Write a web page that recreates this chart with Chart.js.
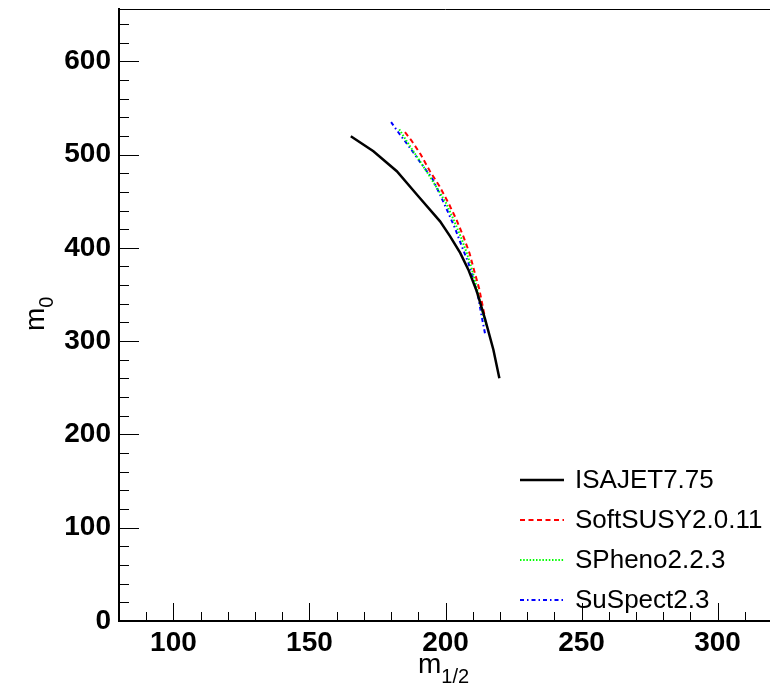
<!DOCTYPE html>
<html>
<head>
<meta charset="utf-8">
<script src="https://cdn.jsdelivr.net/npm/chart.js@4"></script>
<style>
  html, body { margin: 0; padding: 0; background: #fff; overflow: hidden; }
  #wrap { width: 780px; height: 688px; }
</style>
</head>
<body>
<div id="wrap"><canvas id="myChart" width="780" height="688"></canvas></div>
<script>
// Axis ticks (labelled) and axis ranges
const xTicks = [100, 150, 200, 250, 300];
const yTicks = [0, 100, 200, 300, 400, 500, 600];
const xRange = [80, 320];
const yRange = [0, 656];

// Legend names
const seriesNames = ['ISAJET7.75', 'SoftSUSY2.0.11', 'SPheno2.2.3', 'SuSpect2.3'];

// Curves (m1/2, m0)
const isajetX = [165.2, 173.5, 182.1, 190.0, 198.0, 201.7, 205.4, 208.4, 211.5, 214.6, 217.6, 219.8];
const isajetY = [519.6, 503.6, 482.1, 455.3, 428.4, 412.3, 394.5, 376.6, 353.3, 323.0, 290.8, 260.3];

const softsusyX = [185.1, 187.5, 190.9, 194.3, 197.8, 201.1, 203.9, 206.6, 208.8, 210.6, 212.4, 213.7, 214.5];
const softsusyY = [524, 515, 500, 482, 466, 448, 431, 412, 394.5, 375, 356, 337, 325];

const sphenoX = [183.0, 185.8, 189.0, 192.8, 196.7, 200.2, 203.0, 205.6, 208.0, 209.9, 211.6, 213.0, 214.3, 215.0];
const sphenoY = [527, 514, 500, 483, 465, 448, 430, 412, 393, 375, 356, 338, 324, 316];

const suspectX = [180.0, 183.1, 187.0, 190.9, 195.0, 198.0, 200.8, 203.5, 206.0, 208.4, 210.3, 212.1, 213.3, 214.6];
const suspectY = [534.7, 522, 507, 491, 475, 457, 439, 421, 401.6, 384, 366, 346, 326.5, 307];

const toPoints = (xs, ys) => xs.map((x, i) => ({ x: x, y: ys[i] }));

const FONT = '"Liberation Sans", Arial, Helvetica, sans-serif';

// Draws ROOT-style inward ticks, the top frame line, axis titles and the legend
const rootFrame = {
    id: 'rootFrame',
    afterDraw(chart) {
        const ctx = chart.ctx;
        const area = chart.chartArea;
        const xs = chart.scales.x;
        const ys = chart.scales.y;
        ctx.save();
        ctx.strokeStyle = '#000';
        ctx.lineWidth = 1;

        // x ticks: major every 50, minor every 10
        for (let v = xRange[0]; v <= xRange[1]; v += 10) {
            const px = Math.round(xs.getPixelForValue(v)) + 0.5;
            const len = (v % 50 === 0) ? 18 : 9;
            ctx.beginPath();
            ctx.moveTo(px, area.bottom);
            ctx.lineTo(px, area.bottom - len);
            ctx.stroke();
        }
        // y ticks: major every 100, minor every 20
        for (let v = yRange[0]; v <= yRange[1]; v += 20) {
            const py = Math.round(ys.getPixelForValue(v)) + 0.5;
            const len = (v % 100 === 0) ? 20 : 10;
            ctx.beginPath();
            ctx.moveTo(area.left, py);
            ctx.lineTo(area.left + len, py);
            ctx.stroke();
        }
        // top frame line
        ctx.beginPath();
        ctx.moveTo(area.left, area.top + 0.5);
        ctx.lineTo(area.right, area.top + 0.5);
        ctx.stroke();

        // axis titles with subscripts
        ctx.fillStyle = '#000';
        ctx.textBaseline = 'alphabetic';
        ctx.textAlign = 'left';
        ctx.font = '28px ' + FONT;
        const mW = ctx.measureText('m').width;
        ctx.fillText('m', 418, 673);
        ctx.font = '20px ' + FONT;
        ctx.fillText('1/2', 418 + mW, 683);

        ctx.save();
        ctx.translate(44, 331);
        ctx.rotate(-Math.PI / 2);
        ctx.font = '28px ' + FONT;
        ctx.fillText('m', 0, 0);
        ctx.font = '20px ' + FONT;
        ctx.fillText('0', mW, 9);
        ctx.restore();

        // legend
        const rows = [480, 520, 560, 600];
        chart.data.datasets.forEach((ds, i) => {
            const y = rows[i];
            ctx.save();
            ctx.strokeStyle = ds.borderColor;
            ctx.lineWidth = ds.borderWidth;
            ctx.setLineDash(ds.borderDash || []);
            ctx.beginPath();
            ctx.moveTo(520, y);
            ctx.lineTo(564, y);
            ctx.stroke();
            ctx.restore();
            ctx.font = '26px ' + FONT;
            ctx.fillStyle = '#000';
            ctx.textBaseline = 'middle';
            ctx.fillText(ds.label, 575, y + 1);
        });
        ctx.restore();
    }
};

const ctx = document.getElementById('myChart').getContext('2d');

const chart = new Chart(ctx, {
    type: 'scatter',
    data: {
        datasets: [
            {
                label: seriesNames[0],
                data: toPoints(isajetX, isajetY),
                borderColor: '#000000',
                borderWidth: 2.5,
                borderDash: []
            },
            {
                label: seriesNames[1],
                data: toPoints(softsusyX, softsusyY),
                borderColor: '#ff0000',
                borderWidth: 2,
                borderDash: [5, 3.5]
            },
            {
                label: seriesNames[2],
                data: toPoints(sphenoX, sphenoY),
                borderColor: '#00ff00',
                borderWidth: 2,
                borderDash: [1.5, 1.7]
            },
            {
                label: seriesNames[3],
                data: toPoints(suspectX, suspectY),
                borderColor: '#0000ff',
                borderWidth: 2,
                borderDash: [4, 3, 1.5, 3]
            }
        ]
    },
    options: {
        responsive: false,
        animation: false,
        showLine: true,
        elements: { point: { radius: 0 }, line: { tension: 0, fill: false } },
        layout: { padding: { top: 9, right: 8, left: 0, bottom: 0 } },
        plugins: { legend: { display: false }, tooltip: { enabled: false } },
        scales: {
            x: {
                type: 'linear',
                min: xRange[0],
                max: xRange[1],
                afterBuildTicks: (scale) => { scale.ticks = xTicks.map(v => ({ value: v })); },
                afterFit: (scale) => {
                    scale.height = 67;
                    scale.paddingLeft = 0;
                    scale.paddingRight = 0;
                },
                grid: { display: false, drawTicks: false },
                border: { display: true, color: '#000', width: 2 },
                ticks: {
                    color: '#000',
                    padding: 5,
                    maxRotation: 0,
                    font: { family: FONT, size: 28, weight: 'bold' }
                }
            },
            y: {
                type: 'linear',
                min: yRange[0],
                max: yRange[1],
                afterBuildTicks: (scale) => { scale.ticks = yTicks.map(v => ({ value: v })); },
                afterFit: (scale) => {
                    scale.width = 119;
                    scale.paddingTop = 0;
                    scale.paddingBottom = 0;
                },
                grid: { display: false, drawTicks: false },
                border: { display: true, color: '#000', width: 2 },
                ticks: {
                    color: '#000',
                    padding: 8,
                    font: { family: FONT, size: 28, weight: 'bold' }
                }
            }
        }
    },
    plugins: [rootFrame]
});
</script>
</body>
</html>
